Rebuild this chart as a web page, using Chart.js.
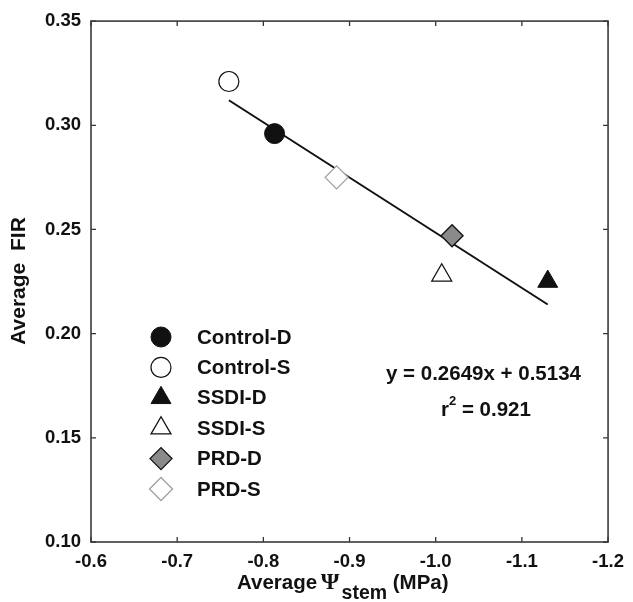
<!DOCTYPE html>
<html>
<head>
<meta charset="utf-8">
<script src="https://cdn.jsdelivr.net/npm/chart.js@4.4.1/dist/chart.umd.min.js"></script>
<style>
html,body{margin:0;padding:0;background:#fff;}
canvas{display:block;}
</style>
</head>
<body>
<canvas id="c" width="633" height="602"></canvas>
<script>
// ---- data ----
const seriesNames = ['Control-D', 'Control-S', 'SSDI-D', 'SSDI-S', 'PRD-D', 'PRD-S'];
const psiStem = [-0.813, -0.760, -1.130, -1.007, -1.019, -0.885];
const fir = [0.296, 0.321, 0.225, 0.228, 0.247, 0.275];
const fitX = [-0.760, -1.130];
const fitY = [0.312, 0.214];
const xTicks = [-0.6, -0.7, -0.8, -0.9, -1.0, -1.1, -1.2];
const xTickLabels = ['-0.6', '-0.7', '-0.8', '-0.9', '-1.0', '-1.1', '-1.2'];
const yTicks = [0.10, 0.15, 0.20, 0.25, 0.30, 0.35];
const yTickLabels = ['0.10', '0.15', '0.20', '0.25', '0.30', '0.35'];
const equationText = 'y = 0.2649x + 0.5134';
const r2Value = '0.921';

// ---- styles ----
const FONT = '"Liberation Sans", Arial, Helvetica, sans-serif';
const styles = [
  {pointStyle: 'circle',   bg: '#111111', border: '#111111', r: 10,   bw: 1},
  {pointStyle: 'circle',   bg: '#ffffff', border: '#111111', r: 10,   bw: 1.2},
  {pointStyle: 'triangle', bg: '#111111', border: '#111111', r: 11.5, bw: 1},
  {pointStyle: 'triangle', bg: '#ffffff', border: '#111111', r: 11.5, bw: 1.3},
  {pointStyle: 'rectRot',  bg: '#8a8a8a', border: '#111111', r: 11,   bw: 1.3},
  {pointStyle: 'rectRot',  bg: '#ffffff', border: '#a0a0a0', r: 11.5, bw: 1.3}
];

const datasets = [{
  type: 'line',
  label: 'fit',
  data: fitX.map((x, i) => ({x: x, y: fitY[i]})),
  borderColor: '#111111',
  borderWidth: 2,
  pointRadius: 0,
  showLine: true,
  fill: false,
  order: 10
}];
seriesNames.forEach((name, i) => {
  const s = styles[i];
  datasets.push({
    type: 'scatter',
    label: name,
    data: [{x: psiStem[i], y: fir[i]}],
    pointStyle: s.pointStyle,
    backgroundColor: s.bg,
    borderColor: s.border,
    borderWidth: s.bw,
    pointRadius: s.r,
    pointHoverRadius: s.r,
    order: 1
  });
});

function drawMarker(ctx, style, r, x, y, bg, border, bw) {
  ctx.save();
  ctx.fillStyle = bg; ctx.strokeStyle = border; ctx.lineWidth = bw;
  if (Chart.helpers && Chart.helpers.drawPoint) {
    Chart.helpers.drawPoint(ctx, {pointStyle: style, radius: r, rotation: 0, borderWidth: bw}, x, y);
    ctx.restore();
    return;
  }
  ctx.beginPath();
  if (style === 'circle') ctx.arc(x, y, r, 0, Math.PI * 2);
  else if (style === 'triangle') {
    ctx.moveTo(x, y - r); ctx.lineTo(x + 0.866 * r, y + 0.5 * r); ctx.lineTo(x - 0.866 * r, y + 0.5 * r);
  } else {
    ctx.moveTo(x - r, y); ctx.lineTo(x, y - r); ctx.lineTo(x + r, y); ctx.lineTo(x, y + r);
  }
  ctx.closePath(); ctx.fill(); ctx.stroke();
  ctx.restore();
}

const framePlugin = {
  id: 'frame',
  afterDraw(chart) {
    const ctx = chart.ctx, a = chart.chartArea;
    const xs = chart.scales.x, ys = chart.scales.y;
    ctx.save();
    // inward ticks
    ctx.strokeStyle = '#333'; ctx.lineWidth = 1.3;
    const TL = 5;
    xTicks.forEach(v => {
      const px = xs.getPixelForValue(v);
      ctx.beginPath();
      ctx.moveTo(px, a.bottom); ctx.lineTo(px, a.bottom - TL);
      ctx.moveTo(px, a.top); ctx.lineTo(px, a.top + TL);
      ctx.stroke();
    });
    yTicks.forEach(v => {
      const py = ys.getPixelForValue(v);
      ctx.beginPath();
      ctx.moveTo(a.left, py); ctx.lineTo(a.left + TL, py);
      ctx.moveTo(a.right, py); ctx.lineTo(a.right - TL, py);
      ctx.stroke();
    });
    // box
    ctx.strokeStyle = '#3a3a3a'; ctx.lineWidth = 1.6;
    ctx.strokeRect(a.left, a.top, a.right - a.left, a.bottom - a.top);

    // legend
    const lx = 161, ly0 = 337, dy = 30.4;
    chart.data.datasets.forEach((ds, i) => {
      if (ds.label === 'fit') return;
      const k = i - 1;
      const y = ly0 + k * dy;
      drawMarker(ctx, ds.pointStyle, ds.pointRadius, lx, y, ds.backgroundColor, ds.borderColor, ds.borderWidth);
      ctx.fillStyle = '#111';
      ctx.font = 'bold 20.5px ' + FONT;
      ctx.textAlign = 'left'; ctx.textBaseline = 'middle';
      ctx.fillText(ds.label, 197, y + 1);
    });

    // equation
    ctx.fillStyle = '#111';
    ctx.font = 'bold 20.5px ' + FONT;
    ctx.textAlign = 'left'; ctx.textBaseline = 'alphabetic';
    ctx.fillText(equationText, 386, 379.5);
    let rx = 441;
    ctx.fillText('r', rx, 415.5);
    rx += ctx.measureText('r').width;
    ctx.font = 'bold 13px ' + FONT;
    ctx.fillText('2', rx, 405);
    rx += ctx.measureText('2').width;
    ctx.font = 'bold 20.5px ' + FONT;
    ctx.fillText(' = ' + r2Value, rx, 415.5);

    // x title
    let tx = 237; const tb = 589;
    ctx.font = 'bold 20.5px ' + FONT;
    ctx.fillText('Average ', tx, tb);
    tx += ctx.measureText('Average ').width - 2;
    ctx.font = 'bold 24px "Liberation Serif", "DejaVu Serif", serif';
    ctx.fillText('\u03A8', tx, tb);
    tx += ctx.measureText('\u03A8').width + 2;
    ctx.font = 'bold 19.5px ' + FONT;
    ctx.fillText('stem', tx, tb + 10);
    tx += ctx.measureText('stem').width;
    ctx.font = 'bold 20.5px ' + FONT;
    ctx.fillText(' (MPa)', tx, tb);

    // y title
    ctx.save();
    ctx.translate(19, 281);
    ctx.rotate(-Math.PI / 2);
    ctx.textAlign = 'center'; ctx.textBaseline = 'middle';
    ctx.font = 'bold 21px ' + FONT;
    ctx.fillText('Average  FIR', 0, 0);
    ctx.restore();

    ctx.restore();
  }
};

new Chart(document.getElementById('c'), {
  data: {datasets: datasets},
  options: {
    responsive: false,
    animation: false,
    devicePixelRatio: 1,
    layout: {padding: {left: 0, right: 15, top: 15, bottom: 0}},
    plugins: {legend: {display: false}, tooltip: {enabled: false}},
    scales: {
      x: {
        type: 'linear', min: -1.2, max: -0.6, reverse: true,
        grid: {display: false, drawTicks: false},
        border: {display: false},
        afterBuildTicks: s => { s.ticks = xTicks.map(v => ({value: v})); },
        afterFit: s => { s.height = 60; },
        ticks: {
          padding: 9, color: '#111', maxRotation: 0, autoSkip: false,
          font: {family: FONT, size: 18.5, weight: 'bold'},
          callback: (v) => { const i = xTicks.findIndex(t => Math.abs(t - v) < 1e-9); return i >= 0 ? xTickLabels[i] : ''; }
        }
      },
      y: {
        type: 'linear', min: 0.10, max: 0.35,
        grid: {display: false, drawTicks: false},
        border: {display: false},
        afterBuildTicks: s => { s.ticks = yTicks.map(v => ({value: v})); },
        afterFit: s => { s.width = 91; },
        ticks: {
          padding: 10, color: '#111', autoSkip: false,
          font: {family: FONT, size: 18.5, weight: 'bold'},
          callback: (v) => { const i = yTicks.findIndex(t => Math.abs(t - v) < 1e-9); return i >= 0 ? yTickLabels[i] : ''; }
        }
      }
    }
  },
  plugins: [framePlugin]
});
</script>
</body>
</html>
